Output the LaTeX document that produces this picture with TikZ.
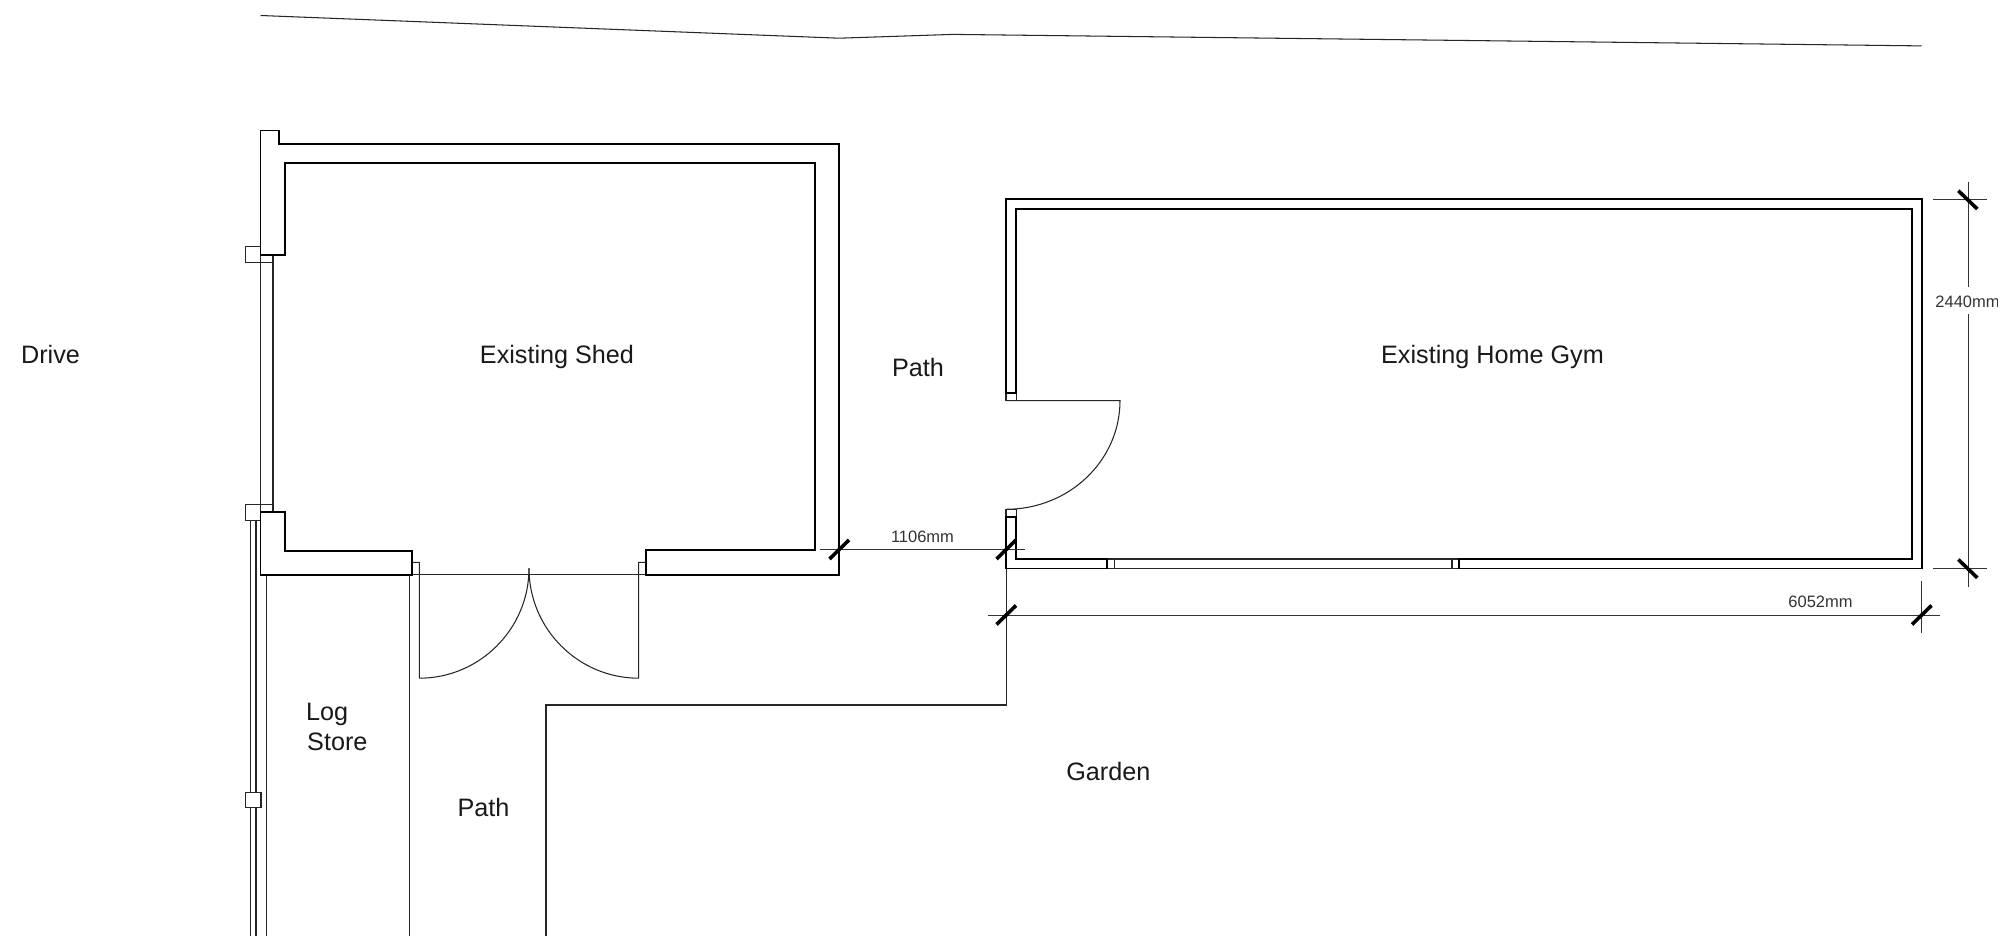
\documentclass[tikz,border=0pt]{standalone}
\usepackage{fontspec}
\setmainfont{Liberation Sans}
\tikzset{
  wall/.style={draw=black,line width=1.8pt,line join=miter},
  thin line/.style={draw=black!85,line width=1.05pt},
  dimline/.style={draw=black!80,line width=1pt},
  ticky/.style={draw=black,line width=3.6pt},
  lab/.style={font=\fontsize{25.2}{29.5}\selectfont,text=black!90,inner sep=0pt},
  dimlab/.style={font=\fontsize{16.5}{19}\selectfont,text=black!80,inner sep=0pt},
}
\begin{document}
\begin{tikzpicture}[x=1pt,y=-1pt]
\path[use as bounding box,fill=white] (0,0) rectangle (1998,936);
\clip (0,0) rectangle (1998,936);
% boundary at top
\draw[thin line] (260.5,15.5) -- (839,38.2) -- (953,34.4) -- (1921.5,45.9);
% shed windows and posts
\draw[thin line] (260.5,255) -- (260.5,512) (273,255) -- (273,512);
\draw[thin line] (260.5,246.7) -- (245.5,246.7) -- (245.5,262.3) -- (273,262.3);
\draw[thin line] (273,504.7) -- (245.5,504.7) -- (245.5,520.3) -- (260.5,520.3);
\draw[thin line] (250.3,520.3) -- (250.3,792.3) (256,520.3) -- (256,792.3);
\draw[thin line] (250.3,807.7) -- (250.3,936) (256,807.7) -- (256,936);
\draw[thin line] (245.5,792.3) rectangle (261,807.7);
\draw[thin line] (266.7,574.7) -- (266.7,936);
\draw[thin line] (409.3,574.7) -- (409.3,936);
% shed doors
\draw[thin line] (412.3,574.3) -- (646,574.3);
\draw[thin line] (412.3,562.3) -- (419.3,562.3) -- (419.3,678.2) .. controls (479.9,678.2) and (529,628.7) .. (529,568.3);
\draw[thin line] (646,562.3) -- (638.7,562.3) -- (638.7,678.2) .. controls (578.1,678.2) and (529,628.7) .. (529,568.3);
% shed walls
\draw[wall] (260.5,255) -- (260.5,130.5) -- (279,130.5) -- (279,143.7) -- (839.3,143.7) -- (839.3,574.7) -- (646,574.7) -- (646,550.3) -- (815,550.3) -- (815,163) -- (285,163) -- (285,255) -- cycle;
\draw[wall] (260.5,512.3) -- (285,512.3) -- (285,550.7) -- (412.3,550.7) -- (412.3,574.7) -- (260.5,574.7) -- cycle;
% gym jambs, window and door
\draw[thin line] (1006,392.7) rectangle (1016.3,400.7);
\draw[thin line] (1006,509.3) rectangle (1016.3,517.3);
\draw[thin line] (1107,559) rectangle (1459.3,568.5);
\draw[thin line] (1114.7,559) -- (1114.7,568.5) (1452,559) -- (1452,568.5);
\draw[thin line] (1006,400.7) -- (1120,400.7) .. controls (1120,460.7) and (1069,509.3) .. (1006,509.3);
% gym walls
\draw[wall] (1006,392.7) -- (1006,199.3) -- (1922,199.3) -- (1922,568.5) -- (1459.3,568.5) -- (1459.3,559) -- (1912,559) -- (1912,209.3) -- (1016.3,209.3) -- (1016.3,392.7) -- cycle;
\draw[wall] (1006,517.3) -- (1016.3,517.3) -- (1016.3,559) -- (1107,559) -- (1107,568.5) -- (1006,568.5) -- cycle;
% path edge
\draw[thin line] (1006.4,568.5) -- (1006.4,705) -- (546,705) -- (546,936);
% dimensions
\draw[dimline] (820,549.7) -- (1025,549.7);
\draw[dimline] (987.7,615.3) -- (1940,615.3);
\draw[dimline] (1921.7,580.7) -- (1921.7,633);
\draw[dimline] (1933,199.3) -- (1986.7,199.3);
\draw[dimline] (1933,568.3) -- (1986.7,568.3);
\draw[dimline] (1968,181.7) -- (1968,287) (1968,314) -- (1968,586.7);
\draw[ticky] (829.5,559) -- (849,540);
\draw[ticky] (996.5,559) -- (1016,540);
\draw[ticky] (996.5,624.5) -- (1016,605.5);
\draw[ticky] (1912,624.5) -- (1931.5,605.5);
\draw[ticky] (1958.3,190.7) -- (1977.3,209);
\draw[ticky] (1958.3,559.5) -- (1977.3,577.8);
\node[dimlab] (d1) at (922.5,536.5) {1106mm};
\node[dimlab] (d2) at (1820.5,601.5) {6052mm};
\node[dimlab,anchor=west] (d3) at (1935.2,301.5) {2440mm};
% labels
\node[lab] (drive) at (50.5,354) {Drive};
\node[lab] (shed) at (557,356.5) {Existing Shed};
\node[lab] (gym) at (1492.5,356.5) {Existing Home Gym};
\node[lab] (path1) at (918,367.5) {Path};
\node[lab,align=left,anchor=west] (log) at (306,727) {Log\\\hspace*{1pt}Store};
\node[lab] (path2) at (483.5,807.5) {Path};
\node[lab] (garden) at (1108.3,771) {Garden};
\end{tikzpicture}
\end{document}
